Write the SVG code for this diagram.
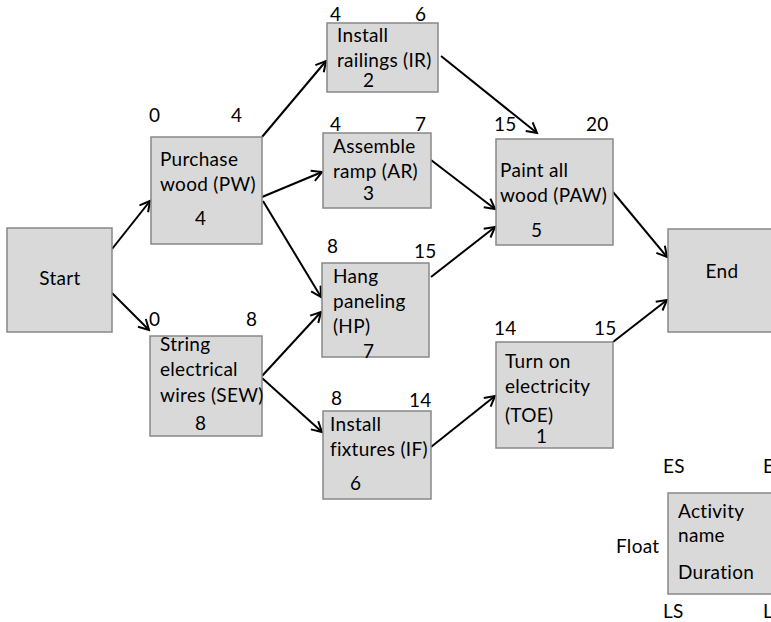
<svg xmlns="http://www.w3.org/2000/svg" width="771" height="622" viewBox="0 0 771 622">
  <style>
    .box { fill: #d9d9d9; stroke: #888888; stroke-width: 1.5; }
    text { font-family: Lato, "Open Sans", "Liberation Sans", sans-serif; font-size: 19px; letter-spacing: 0.3px; fill: #000000; }
    .mid { text-anchor: middle; }
    .edge { fill: none; stroke: #000000; stroke-width: 2; marker-end: url(#arrow); }
  </style>
  <defs>
    <marker id="arrow" markerUnits="userSpaceOnUse" markerWidth="14" markerHeight="14" viewBox="0 0 14 14" refX="12" refY="7" orient="auto">
      <path d="M2,1.5 L12,7 L2,12.5" fill="none" stroke="#000000" stroke-width="2"/>
    </marker>
  </defs>
  <rect width="771" height="622" fill="#ffffff"/>

  <!-- connectors -->
  <g id="connectors">
    <line class="edge" x1="112" y1="249" x2="150" y2="201"/>
    <line class="edge" x1="112" y1="293" x2="149" y2="330"/>
    <line class="edge" x1="262" y1="137" x2="326" y2="61"/>
    <line class="edge" x1="262" y1="197" x2="322" y2="172"/>
    <line class="edge" x1="263" y1="201" x2="321" y2="297"/>
    <line class="edge" x1="262" y1="376" x2="321" y2="312"/>
    <line class="edge" x1="262" y1="378" x2="322" y2="432"/>
    <line class="edge" x1="441" y1="56" x2="537" y2="133"/>
    <line class="edge" x1="431" y1="160" x2="495" y2="209"/>
    <line class="edge" x1="431" y1="277" x2="495" y2="227"/>
    <line class="edge" x1="431" y1="447" x2="495" y2="396"/>
    <line class="edge" x1="613" y1="192" x2="667" y2="257"/>
    <line class="edge" x1="613" y1="342" x2="667" y2="300"/>
  </g>

  <!-- Start -->
  <g id="start">
    <rect class="box" x="7" y="228" width="105" height="104"/>
    <text class="mid" x="60" y="285">Start</text>
  </g>

  <!-- Purchase wood -->
  <g id="pw">
    <rect class="box" x="151" y="137" width="111" height="107"/>
    <text x="149" y="122">0</text>
    <text x="231" y="122">4</text>
    <text x="160" y="166">Purchase</text>
    <text x="160" y="191">wood (PW)</text>
    <text x="195" y="225">4</text>
  </g>

  <!-- String electrical wires -->
  <g id="sew">
    <rect class="box" x="150" y="336" width="112" height="100"/>
    <text x="149" y="326">0</text>
    <text x="246" y="326">8</text>
    <text x="160" y="351">String</text>
    <text x="160" y="376">electrical</text>
    <text x="160" y="402">wires (SEW)</text>
    <text x="195" y="430">8</text>
  </g>

  <!-- Install railings -->
  <g id="ir">
    <rect class="box" x="327" y="23" width="111" height="69"/>
    <text x="330" y="21">4</text>
    <text x="415" y="21">6</text>
    <text x="337" y="42">Install</text>
    <text x="337" y="67">railings (IR)</text>
    <text x="363" y="87">2</text>
  </g>

  <!-- Assemble ramp -->
  <g id="ar">
    <rect class="box" x="323" y="133" width="108" height="75"/>
    <text x="330" y="131">4</text>
    <text x="415" y="131">7</text>
    <text x="333" y="153">Assemble</text>
    <text x="333" y="178">ramp (AR)</text>
    <text x="363" y="200">3</text>
  </g>

  <!-- Hang paneling -->
  <g id="hp">
    <rect class="box" x="322" y="263" width="107" height="94"/>
    <text x="327" y="253">8</text>
    <text x="414" y="258">15</text>
    <text x="333" y="283">Hang</text>
    <text x="333" y="308">paneling</text>
    <text x="333" y="333">(HP)</text>
    <text x="363" y="358">7</text>
  </g>

  <!-- Install fixtures -->
  <g id="if">
    <rect class="box" x="323" y="411" width="108" height="88"/>
    <text x="331" y="405">8</text>
    <text x="409" y="407">14</text>
    <text x="330" y="431">Install</text>
    <text x="330" y="456">fixtures (IF)</text>
    <text x="350" y="490">6</text>
  </g>

  <!-- Paint all wood -->
  <g id="paw">
    <rect class="box" x="496" y="139" width="117" height="106"/>
    <text x="494" y="131">15</text>
    <text x="586" y="131">20</text>
    <text x="500" y="177">Paint all</text>
    <text x="500" y="202">wood (PAW)</text>
    <text x="531" y="237">5</text>
  </g>

  <!-- Turn on electricity -->
  <g id="toe">
    <rect class="box" x="496" y="342" width="117" height="106"/>
    <text x="494" y="335">14</text>
    <text x="594" y="335">15</text>
    <text x="505" y="368">Turn on</text>
    <text x="505" y="393">electricity</text>
    <text x="505" y="422">(TOE)</text>
    <text x="536" y="443">1</text>
  </g>

  <!-- End -->
  <g id="end">
    <rect class="box" x="668" y="229" width="110" height="103"/>
    <text class="mid" x="722" y="278">End</text>
  </g>

  <!-- Legend -->
  <g id="legend">
    <rect class="box" x="668" y="493" width="110" height="101"/>
    <text x="663" y="473">ES</text>
    <text x="763" y="473">EF</text>
    <text x="616" y="553">Float</text>
    <text x="678" y="518">Activity</text>
    <text x="678" y="542">name</text>
    <text x="678" y="579">Duration</text>
    <text x="663" y="618">LS</text>
    <text x="763" y="618">LF</text>
  </g>
</svg>
